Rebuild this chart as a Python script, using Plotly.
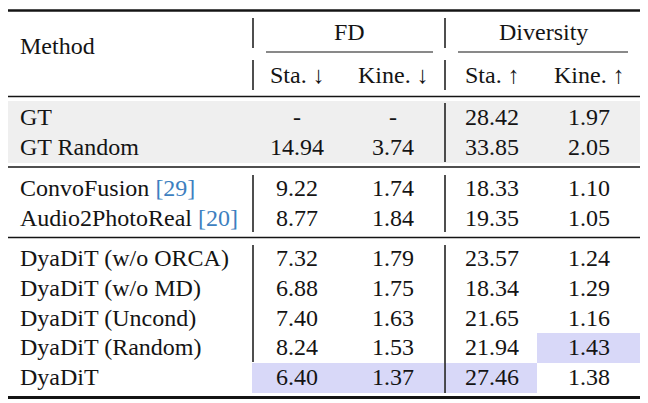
import plotly.graph_objects as go

# table contents
methods = ["GT", "GT Random", "ConvoFusion", "Audio2PhotoReal",
           "DyaDiT (w/o ORCA)", "DyaDiT (w/o MD)", "DyaDiT (Uncond)",
           "DyaDiT (Random)", "DyaDiT"]
cites = [None, None, "29", "20", None, None, None, None, None]
fd_sta = [None, 14.94, 9.22, 8.77, 7.32, 6.88, 7.40, 8.24, 6.40]
fd_kine = [None, 3.74, 1.74, 1.84, 1.79, 1.75, 1.63, 1.53, 1.37]
div_sta = [28.42, 33.85, 18.33, 19.35, 23.57, 18.34, 21.65, 21.94, 27.46]
div_kine = [1.97, 2.05, 1.10, 1.05, 1.24, 1.29, 1.16, 1.43, 1.38]
groups = ["FD", "Diversity"]
sub_cols = ["Sta. ↓", "Kine. ↓", "Sta. ↑", "Kine. ↑"]
# best cells: (row, column)
best = [(7, 3), (8, 0), (8, 1), (8, 2)]

FONT = "Liberation Serif"
FS = 24
INK = "#141414"
CITE = "#3d7fc0"
HILITE = "#d8d8f8"
SHADE = "#efefef"

# the page body has an 8px margin, so the figure is shifted by 8px;
# axis ranges are set so that data units equal page pixels
PAD = 8
W, H = 648, 403
row_y = [117, 147, 188, 218, 258, 288, 318, 347, 377]
col_x = [297, 393, 492, 589]
cell_edges = [(252, 344), (344, 444), (445, 537), (537, 643)]
row_h = 30

fig = go.Figure()

shapes = []
# gray band for ground-truth rows
shapes.append(dict(type="rect", x0=3, x1=643, y0=101, y1=163,
                   fillcolor=SHADE, line_width=0, layer="below"))
# highlighted best cells
for r, c in best:
    x0, x1 = cell_edges[c]
    shapes.append(dict(type="rect", x0=x0, x1=x1,
                       y0=row_y[r] - row_h / 2 + 1, y1=row_y[r] + row_h / 2 + 1,
                       fillcolor=HILITE, line_width=0, layer="below"))

def hline(y, w, x0=3, x1=643):
    shapes.append(dict(type="line", x0=x0, x1=x1, y0=y, y1=y,
                       line=dict(color=INK, width=w)))

def vline(x, y0, y1):
    shapes.append(dict(type="line", x0=x, x1=x, y0=y0, y1=y1,
                       line=dict(color=INK, width=1.5)))

hline(10.5, 2.6)
hline(52, 1.2, 266, 433)
hline(52, 1.2, 458, 628)
hline(96.5, 1.5)
hline(167, 1.5)
hline(237.5, 1.5)
hline(397.5, 3)

for y0, y1 in [(18, 48), (60, 90), (175, 232), (245, 362)]:
    vline(253, y0, y1)
for y0, y1 in [(18, 48), (60, 90), (103, 162), (175, 232), (245, 393)]:
    vline(445, y0, y1)


def add_text(x, y, text, anchor="center"):
    for xi, yi, t in zip(x, y, text):
        fig.add_annotation(x=xi, y=yi, xref="x", yref="y", text=t,
                           showarrow=False, xanchor=anchor, yanchor="middle",
                           font=dict(family=FONT, size=FS, color=INK))


# header text
add_text([18], [46], ["Method"], "left")
add_text([349, 543], [32, 32], groups)
add_text(col_x, [75] * 4, sub_cols)

# method names
labels = []
for m, c in zip(methods, cites):
    if c:
        labels.append(f"{m} <span style='color:{CITE}'>[{c}]</span>")
    else:
        labels.append(m)
add_text([18] * len(methods), row_y, labels, "left")

# values
for ci, series in enumerate([fd_sta, fd_kine, div_sta, div_kine]):
    txt = ["-" if v is None else f"{v:.2f}" for v in series]
    add_text([col_x[ci]] * len(series), row_y, txt)

fig.update_layout(
    width=W - PAD, height=H - PAD,
    margin=dict(l=0, r=0, t=0, b=0),
    paper_bgcolor="white", plot_bgcolor="white",
    font=dict(family=FONT, size=FS, color=INK),
    showlegend=False,
    shapes=shapes,
    xaxis=dict(range=[PAD, W], visible=False, fixedrange=True),
    yaxis=dict(range=[H, PAD], visible=False, fixedrange=True),
)

fig.write_html("out.html")
